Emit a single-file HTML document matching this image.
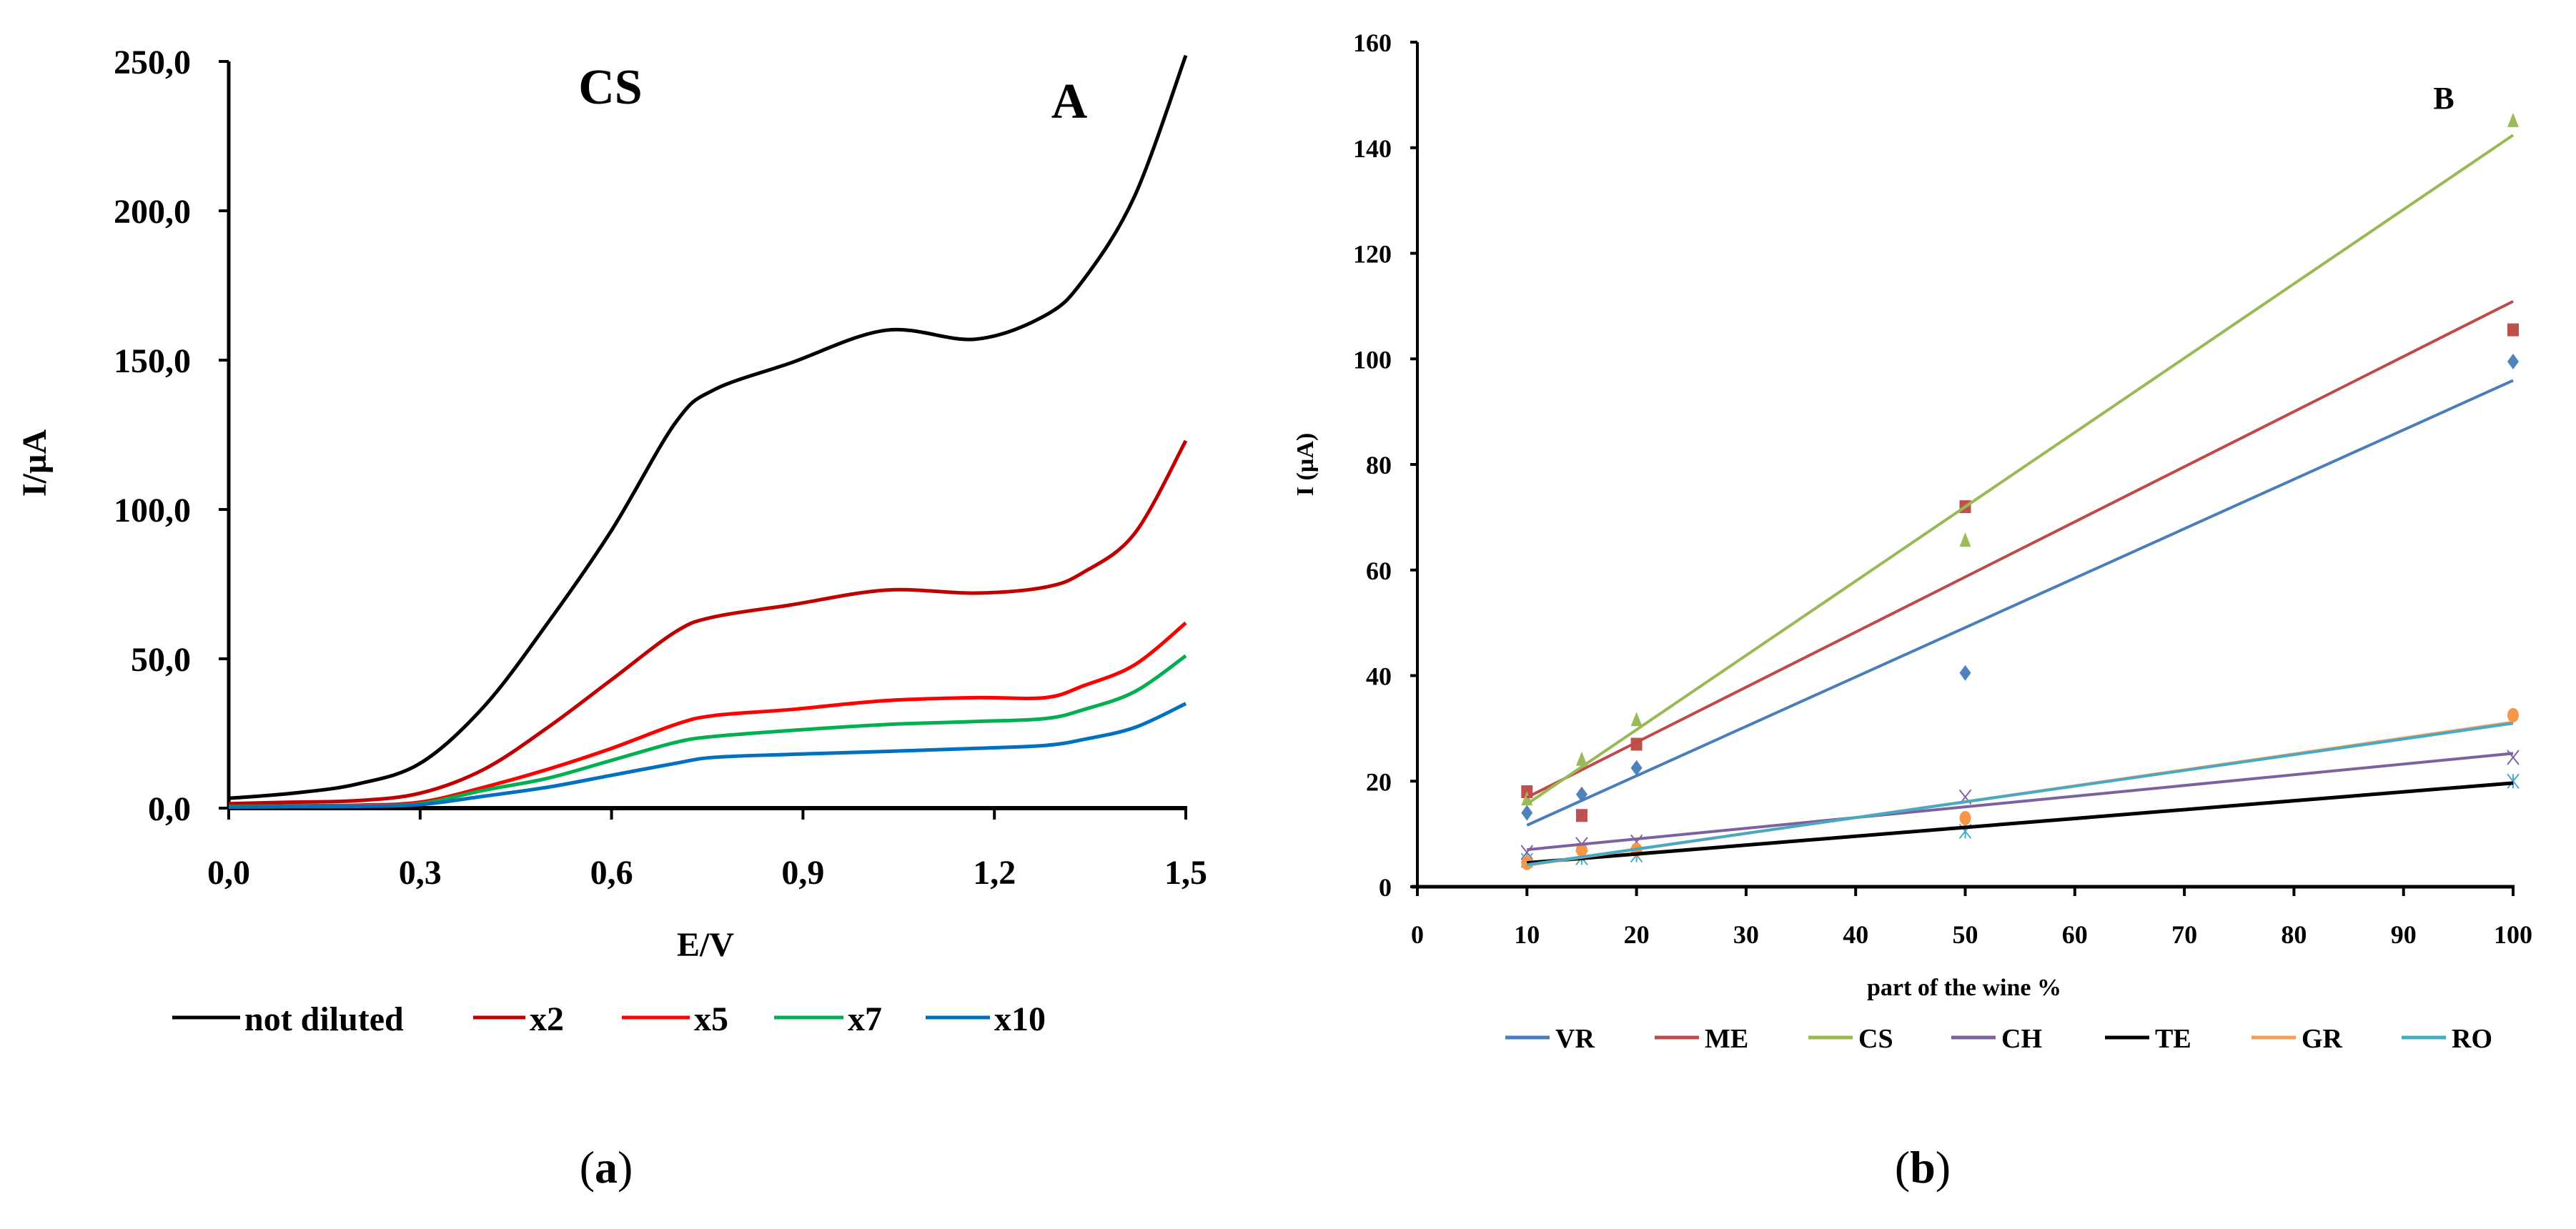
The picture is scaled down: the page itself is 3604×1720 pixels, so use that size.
<!DOCTYPE html>
<html><head><meta charset="utf-8">
<style>
html,body{margin:0;padding:0;background:#fff;}
svg{display:block;font-family:"Liberation Serif",serif;font-weight:bold;}
</style></head>
<body>
<svg id="fig" width="3604" height="1720" viewBox="0 0 3604 1720" xmlns="http://www.w3.org/2000/svg">
<g id="chartA"></g>
<g id="chartB"></g>
<text x="848" y="1655" font-size="64" font-weight="normal" text-anchor="middle">(<tspan font-weight="bold">a</tspan>)</text>
<text x="2690" y="1655" font-size="64" font-weight="normal" text-anchor="middle">(<tspan font-weight="bold">b</tspan>)</text>
</svg>
<script>
// ---------- Chart A data ----------
const aVolts = [0,0.1,0.2,0.3,0.4,0.5,0.6,0.7,0.76,0.88,1.03,1.17,1.28,1.34,1.42,1.5];
const aNotDiluted = [3.3,5,8,15,34,62,93,129,140,149,160,157,165,177,205,252];
const aX2 = [1.5,2,2.5,5,13,27,43,59,64,68,73,72,74,79,92,123];
const aX5 = [0.5,0.8,1,2,7,13,20,28,31,33,36,37,37,41,48,62];
const aX7 = [0.5,0.6,0.8,1.5,6,10,16,22,24,26,28,29,30,33,39,51];
const aX10 = [0.3,0.5,0.6,1.2,4,7,11,15,17,18,19,20,21,23,27,35];
const aSeriesNames = ["not diluted","x2","x5","x7","x10"];
const aYTicks = ["0,0","50,0","100,0","150,0","200,0","250,0"];
const aYTickVals = [0,50,100,150,200,250];
const aXTicks = ["0,0","0,3","0,6","0,9","1,2","1,5"];
const aXTickVals = [0,0.3,0.6,0.9,1.2,1.5];

// ---------- Chart B data ----------
const bXVals = [10,15,20,50,100];
const bVR = [14,17.5,22.5,40.5,99.5];
const bME = [18,13.5,27,72,105.5];
const bCS = [16.5,24,31.5,65.5,145];
const bCH = [6.5,8,8.5,17,24.5];
const bTE = [5,5.5,6,10.5,20];
const bGR = [4.5,7,7,13,32.5];
const bRO = [4,6,7,16,31];
const bNames = ["VR","ME","CS","CH","TE","GR","RO"];
const bYTicks = ["0","20","40","60","80","100","120","140","160"];
const bYTickVals = [0,20,40,60,80,100,120,140,160];
const bXTicks = ["0","10","20","30","40","50","60","70","80","90","100"];
const bXTickVals = [0,10,20,30,40,50,60,70,80,90,100];

const NS="http://www.w3.org/2000/svg";
function mk(parent,tag,attrs,text){const e=document.createElementNS(NS,tag);for(const k in attrs)e.setAttribute(k,attrs[k]);if(text!==undefined)e.textContent=text;parent.appendChild(e);return e;}

// ---------- Chart A ----------
(function(){
const g=document.getElementById('chartA');
const x0=320,x1=1659,y0=1131,y1=86;
const sx=v=>x0+(v-0)/1.5*(x1-x0);
const sy=v=>y0-v/250*(y0-y1);
let e;
e=mk(g,'line',{x1:x0,y1:y1,x2:x0,y2:y0+2,stroke:'#000','stroke-width':5});


e=mk(g,'line',{x1:x0-2,y1:y0,x2:x1+2,y2:y0,stroke:'#000','stroke-width':6});


aYTickVals.forEach((v,i)=>{
 mk(g,'line',{x1:x0-14,y1:sy(v),x2:x0,y2:sy(v),stroke:'#000','stroke-width':4});
 e=mk(g,'text',{x:267,y:sy(v)+17,'font-size':48,'text-anchor':'end'},aYTicks[i]);
 
 
});
aXTickVals.forEach((v,i)=>{
 mk(g,'line',{x1:sx(v),y1:y0,x2:sx(v),y2:y0+16,stroke:'#000','stroke-width':4});
 e=mk(g,'text',{x:sx(v),y:1237,'font-size':48,'text-anchor':'middle'},aXTicks[i]);
 
 
});
e=mk(g,'text',{x:987,y:1338,'font-size':48,'text-anchor':'middle'},'E/V');


e=mk(g,'text',{x:0,y:0,'font-size':48,'text-anchor':'middle',transform:'translate(64,648) rotate(-90)'},'I/µA');


e=mk(g,'text',{x:854,y:145,'font-size':70,'text-anchor':'middle'},'CS');


e=mk(g,'text',{x:1496,y:165,'font-size':70,'text-anchor':'middle'},'A');


const series=[aNotDiluted,aX2,aX5,aX7,aX10];
const cols=['#000000','#c00000','#ff0000','#00b050','#0070c0'];
const names=['curve-not-diluted','curve-x2','curve-x5','curve-x7','curve-x10'];
series.forEach((s,k)=>{
 const pts=s.map((v,i)=>[sx(aVolts[i]),sy(v)]);
 let d='M'+pts[0][0]+','+pts[0][1];
 for(let i=0;i<pts.length-1;i++){
  const p0=pts[i-1]||pts[i],p1=pts[i],p2=pts[i+1],p3=pts[i+2]||p2;
  const c1=[p1[0]+(p2[0]-p0[0])/6,p1[1]+(p2[1]-p0[1])/6];
  const c2=[p2[0]-(p3[0]-p1[0])/6,p2[1]-(p3[1]-p1[1])/6];
  d+=' C'+c1[0]+','+c1[1]+' '+c2[0]+','+c2[1]+' '+p2[0]+','+p2[1];
 }
 const p=mk(g,'path',{d:d,fill:'none',stroke:cols[k],'stroke-width':5});
 
 
});
const legX=[241,662,870,1083,1295];
const legW=[95,73,95,97,90];
aSeriesNames.forEach((n,k)=>{
 const lg=mk(g,'g',{});
 
 
 mk(lg,'line',{x1:legX[k],y1:1424,x2:legX[k]+legW[k],y2:1424,stroke:cols[k],'stroke-width':5});
 mk(lg,'text',{x:legX[k]+legW[k]+6,y:1442,'font-size':48},n);
});
})();

// ---------- Chart B ----------
(function(){
const g=document.getElementById('chartB');
const x0=1983,x1=3516,y0=1241,y1=59;
const sx=v=>x0+v/100*(x1-x0);
const sy=v=>y0-v/160*(y0-y1);
let e;
e=mk(g,'line',{x1:x0,y1:y1,x2:x0,y2:y0,stroke:'#000','stroke-width':4});


e=mk(g,'line',{x1:x0-8,y1:y0,x2:x1+2,y2:y0,stroke:'#000','stroke-width':5});


bYTickVals.forEach((v,i)=>{
 mk(g,'line',{x1:x0-10,y1:sy(v),x2:x0,y2:sy(v),stroke:'#000','stroke-width':4});
 e=mk(g,'text',{x:1947,y:sy(v)+13,'font-size':36,'text-anchor':'end'},bYTicks[i]);
 
 
});
bXTickVals.forEach((v,i)=>{
 mk(g,'line',{x1:sx(v),y1:y0,x2:sx(v),y2:y0+13,stroke:'#000','stroke-width':4});
 e=mk(g,'text',{x:sx(v),y:1320,'font-size':36,'text-anchor':'middle'},bXTicks[i]);
 
 
});
e=mk(g,'text',{x:2748,y:1393,'font-size':34,'text-anchor':'middle'},'part of the wine %');


e=mk(g,'text',{x:0,y:0,'font-size':34,'text-anchor':'middle',transform:'translate(1837,650) rotate(-90)'},'I (µA)');


e=mk(g,'text',{x:3419,y:152,'font-size':44,'text-anchor':'middle'},'B');


const series=[bVR,bME,bCS,bCH,bTE,bGR,bRO];
const lineCols=['#4a7ebb','#be4b48','#98b954','#7d60a0','#000000','#f59d56','#46aac5'];
const markCols=['#4f81bd','#c0504d','#9bbb59','#8064a2','#4bacc6','#f79646','#4bacc6'];
const markers=['diamond','square','triangle','x','star','circle','none'];
// markers
series.forEach((s,k)=>{
 s.forEach((v,i)=>{
  const cx=sx(bXVals[i]),cy=sy(v),c=markCols[k];let m;
  switch(markers[k]){
   case 'diamond':m=mk(g,'path',{d:`M${cx},${cy-11}L${cx+8},${cy}L${cx},${cy+11}L${cx-8},${cy}Z`,fill:c});break;
   case 'square':m=mk(g,'rect',{x:cx-8,y:cy-9,width:16,height:18,fill:c});break;
   case 'triangle':m=mk(g,'path',{d:`M${cx},${cy-12}L${cx+8},${cy+8}L${cx-8},${cy+8}Z`,fill:c});break;
   case 'x':m=mk(g,'path',{d:`M${cx-8},${cy-10}L${cx+8},${cy+10}M${cx+8},${cy-10}L${cx-8},${cy+10}`,stroke:c,'stroke-width':2});break;
   case 'star':m=mk(g,'path',{d:`M${cx-8},${cy-10}L${cx+8},${cy+10}M${cx+8},${cy-10}L${cx-8},${cy+10}M${cx},${cy-10}L${cx},${cy+10}`,stroke:c,'stroke-width':2});break;
   case 'circle':m=mk(g,'ellipse',{cx:cx,cy:cy,rx:8,ry:10,fill:c});break;
   default:return;
  }
  
  
 });
});
// trendlines (least squares from data)
series.forEach((s,k)=>{
 const n=s.length;let mx=0,my=0;
 for(let i=0;i<n;i++){mx+=bXVals[i];my+=s[i];}
 mx/=n;my/=n;let sxy=0,sxx=0;
 for(let i=0;i<n;i++){sxy+=(bXVals[i]-mx)*(s[i]-my);sxx+=(bXVals[i]-mx)**2;}
 const b=sxy/sxx,a=my-b*mx;
 const xa=bXVals[0],xb=bXVals[n-1];
 const l=mk(g,'line',{x1:sx(xa),y1:sy(a+b*xa),x2:sx(xb),y2:sy(a+b*xb),stroke:lineCols[k],'stroke-width':k===4?5:4});
 
 
});
const legX=[2106,2315,2530,2730,2945,3150,3360];
bNames.forEach((n,k)=>{
 const lg=mk(g,'g',{});
 
 
 mk(lg,'line',{x1:legX[k],y1:1452,x2:legX[k]+62,y2:1452,stroke:lineCols[k],'stroke-width':5});
 mk(lg,'text',{x:legX[k]+70,y:1466,'font-size':38},n);
});
})();
</script>
</body></html>
